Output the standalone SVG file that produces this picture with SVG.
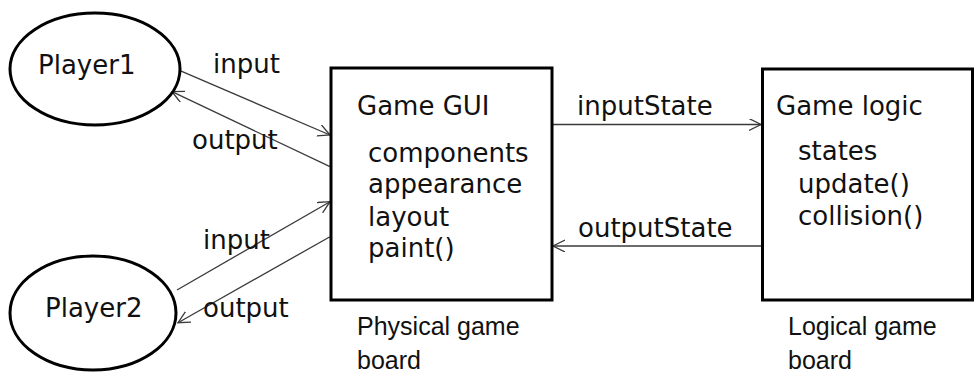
<svg xmlns="http://www.w3.org/2000/svg" width="974" height="375" viewBox="0 0 974 375">
  <defs>
    <style>
      .shape { fill: #ffffff; stroke: #000000; stroke-width: 3; }
      .main { font-family: "DejaVu Sans", sans-serif; font-size: 26px; fill: #111111; }
      .note { font-family: "Liberation Sans", Arial, sans-serif; font-size: 25px; fill: #111111; }
      .conn { fill: none; stroke: #3a3a3a; stroke-width: 1.3; marker-end: url(#arrow); }
    </style>
    <marker id="arrow" markerUnits="userSpaceOnUse" markerWidth="14" markerHeight="14" refX="12" refY="6" orient="auto">
      <path d="M0,0 L12,6 L0,12" fill="none" stroke="#3a3a3a" stroke-width="1.3"/>
    </marker>
  </defs>
  <rect width="974" height="375" fill="#ffffff"/>

  <g id="connectors">
    <line class="conn" x1="180" y1="70.7" x2="330" y2="135"/>
    <line class="conn" x1="330" y1="166.7" x2="172" y2="91.7"/>
    <line class="conn" x1="177" y1="290" x2="330" y2="201.7"/>
    <line class="conn" x1="330" y1="236.7" x2="178" y2="322.7"/>
    <line class="conn" x1="553" y1="124.5" x2="761" y2="124.5"/>
    <line class="conn" x1="761" y1="246" x2="553" y2="246"/>
    <text class="main" x="213" y="73">input</text>
    <text class="main" x="192" y="149">output</text>
    <text class="main" x="203" y="249">input</text>
    <text class="main" x="203" y="317">output</text>
    <text class="main" x="577" y="115">inputState</text>
    <text class="main" x="578" y="237">outputState</text>
  </g>

  <g id="player1">
    <ellipse class="shape" cx="95" cy="69" rx="85" ry="56"/>
    <text class="main" x="38" y="74">Player1</text>
  </g>

  <g id="player2">
    <ellipse class="shape" cx="93" cy="313" rx="83" ry="57"/>
    <text class="main" x="45" y="317">Player2</text>
  </g>

  <g id="game-gui">
    <rect class="shape" x="331" y="68" width="221" height="232"/>
    <text class="main" x="357" y="115">Game GUI</text>
    <text class="main" x="368" y="162">components</text>
    <text class="main" x="368" y="193">appearance</text>
    <text class="main" x="368" y="225.5">layout</text>
    <text class="main" x="368" y="257">paint()</text>
    <text class="note" x="357" y="335">Physical game</text>
    <text class="note" x="357" y="369">board</text>
  </g>

  <g id="game-logic">
    <rect class="shape" x="762.5" y="69" width="210" height="231"/>
    <text class="main" x="776" y="115">Game logic</text>
    <text class="main" x="798" y="160">states</text>
    <text class="main" x="798" y="193">update()</text>
    <text class="main" x="798" y="225">collision()</text>
    <text class="note" x="788" y="335">Logical game</text>
    <text class="note" x="788" y="369">board</text>
  </g>
</svg>
